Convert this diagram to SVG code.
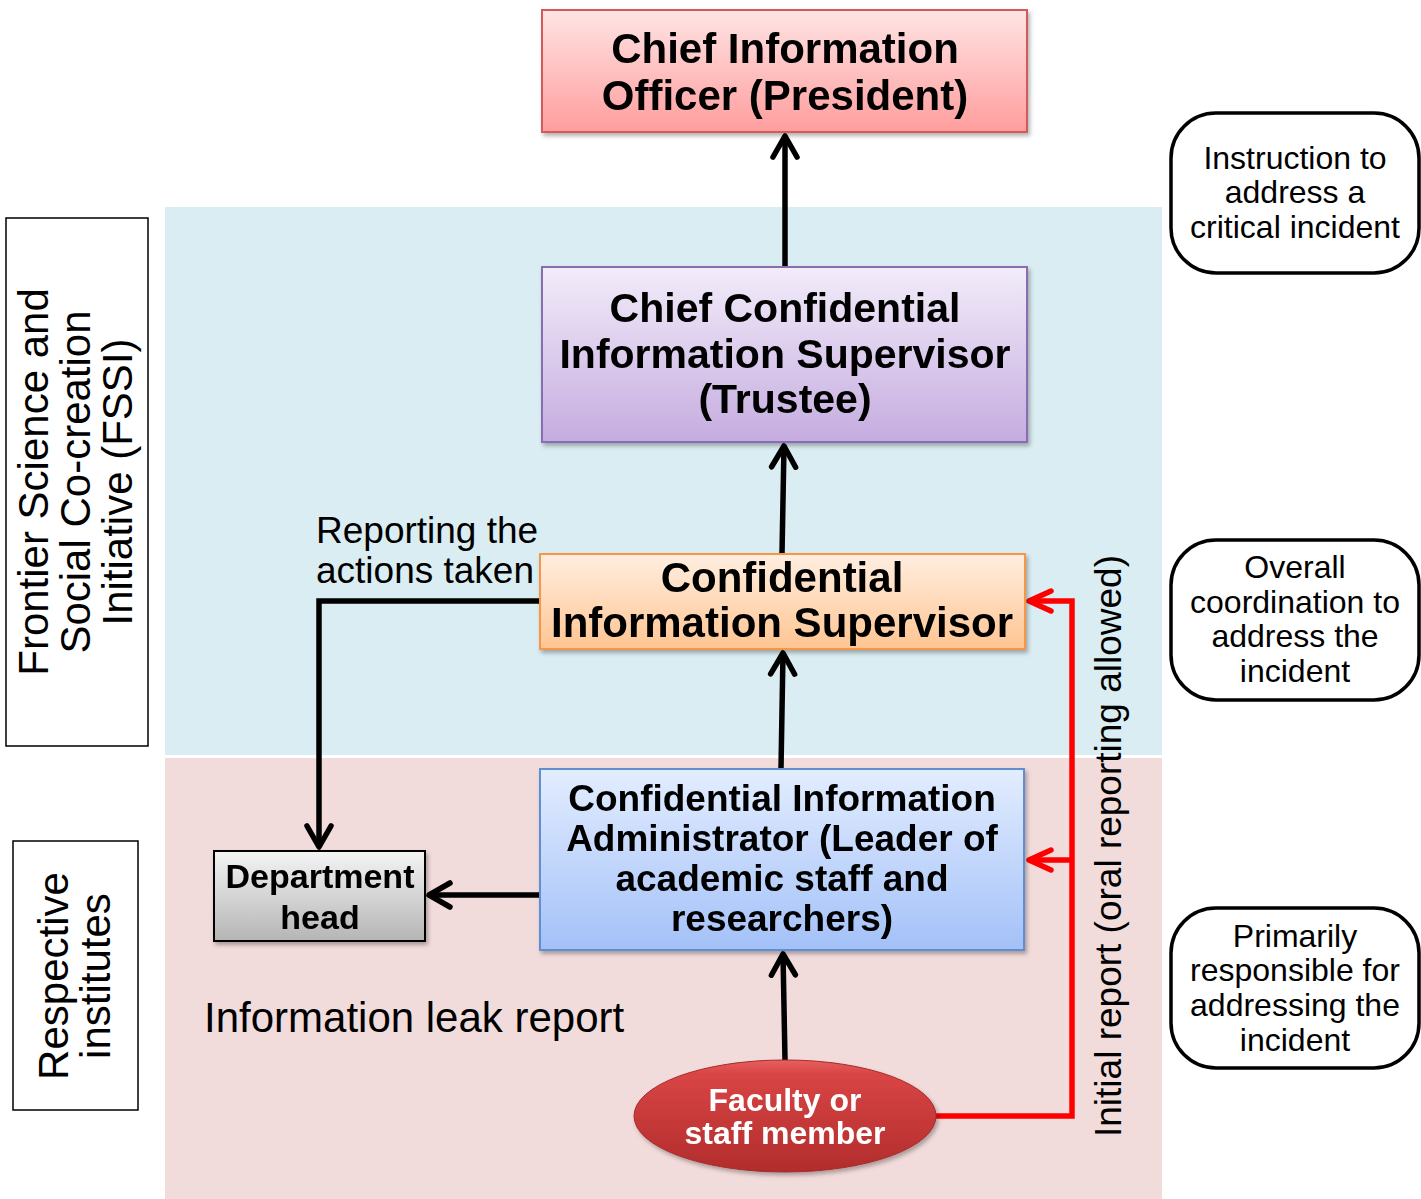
<svg xmlns="http://www.w3.org/2000/svg" width="1421" height="1199" viewBox="0 0 1421 1199">
  <style>
    .t { font-family: "Liberation Sans", Arial, sans-serif; fill: #000; }
    .b { font-weight: bold; }
    .c { text-anchor: middle; }
    .w { fill: #fff; }
    .ln { fill: none; stroke: #000; stroke-width: 5.5; }
    .red { fill: none; stroke: #ff0000; stroke-width: 5.5; }
    .note { fill: #fff; stroke: #000; stroke-width: 3.5; }
    .side { fill: #fff; stroke: #000; stroke-width: 1.5; }
  </style>
  <defs>
    <linearGradient id="gCio" x1="0" y1="0" x2="0" y2="1">
      <stop offset="0" stop-color="#ffe4e4"/>
      <stop offset="1" stop-color="#ff9d9d"/>
    </linearGradient>
    <linearGradient id="gPur" x1="0" y1="0" x2="0" y2="1">
      <stop offset="0" stop-color="#f2ecf9"/>
      <stop offset="1" stop-color="#c5ace0"/>
    </linearGradient>
    <linearGradient id="gOra" x1="0" y1="0" x2="0" y2="1">
      <stop offset="0" stop-color="#ffeee0"/>
      <stop offset="1" stop-color="#ffc592"/>
    </linearGradient>
    <linearGradient id="gBlu" x1="0" y1="0" x2="0" y2="1">
      <stop offset="0" stop-color="#e3edff"/>
      <stop offset="1" stop-color="#a3c1f8"/>
    </linearGradient>
    <linearGradient id="gGry" x1="0" y1="0" x2="0" y2="1">
      <stop offset="0" stop-color="#f4f4f4"/>
      <stop offset="1" stop-color="#b5b5b5"/>
    </linearGradient>
    <linearGradient id="gRed" x1="0" y1="0" x2="0" y2="1">
      <stop offset="0" stop-color="#e86060"/>
      <stop offset="0.12" stop-color="#d94545"/>
      <stop offset="1" stop-color="#b22c2c"/>
    </linearGradient>
    <filter id="shadow" x="-10%" y="-10%" width="120%" height="130%">
      <feDropShadow dx="2" dy="3" stdDeviation="2" flood-color="#000" flood-opacity="0.3"/>
    </filter>
    <marker id="ah" markerUnits="userSpaceOnUse" viewBox="-28 -17 32 34" markerWidth="32" markerHeight="34" refX="0" refY="0" orient="auto">
      <path d="M-21,-12 L0,0 L-21,12" fill="none" stroke="#000" stroke-width="5.5" stroke-linecap="round" stroke-linejoin="round"/>
    </marker>
    <marker id="ahr" markerUnits="userSpaceOnUse" viewBox="-28 -17 32 34" markerWidth="32" markerHeight="34" refX="0" refY="0" orient="auto">
      <path d="M-22,-10 L0,0 L-22,10" fill="none" stroke="#ff0000" stroke-width="5.5" stroke-linecap="round" stroke-linejoin="round"/>
    </marker>
  </defs>

  <rect width="1421" height="1199" fill="#fff"/>

  <!-- organisational bands -->
  <g id="bands">
    <rect x="165" y="207" width="997" height="548" fill="#daedf2"/>
    <rect x="165" y="758" width="997" height="441" fill="#f2dcdb"/>
  </g>

  <!-- side labels -->
  <g id="label-fssi">
    <rect class="side" x="6" y="218" width="142" height="528"/>
    <text class="t c" font-size="42" transform="translate(48,482) rotate(-90)">Frontier Science and</text>
    <text class="t c" font-size="42" transform="translate(90,482) rotate(-90)">Social Co-creation</text>
    <text class="t c" font-size="42" transform="translate(132,482) rotate(-90)">Initiative (FSSI)</text>
  </g>
  <g id="label-institutes">
    <rect class="side" x="13" y="841" width="125" height="269"/>
    <text class="t c" font-size="42" transform="translate(68,976) rotate(-90)">Respective</text>
    <text class="t c" font-size="42" transform="translate(110,976) rotate(-90)">institutes</text>
  </g>

  <!-- connectors -->
  <g id="connectors">
    <line class="ln" x1="785" y1="267" x2="785" y2="136" marker-end="url(#ah)"/>
    <line class="ln" x1="782" y1="554" x2="784" y2="446" marker-end="url(#ah)"/>
    <line class="ln" x1="781" y1="769" x2="783" y2="653" marker-end="url(#ah)"/>
    <line class="ln" x1="785" y1="1060" x2="783" y2="954" marker-end="url(#ah)"/>
    <line class="ln" x1="542" y1="895" x2="429" y2="895" marker-end="url(#ah)"/>
    <polyline class="ln" points="540,601 319,601 319,847" marker-end="url(#ah)"/>
    <polyline class="red" points="936,1116 1072,1116 1072,601 1029,601" marker-end="url(#ahr)"/>
    <line class="red" x1="1072" y1="860" x2="1029" y2="860" marker-end="url(#ahr)"/>
  </g>

  <!-- connector labels -->
  <g id="connector-labels">
    <text class="t" font-size="37" x="316" y="543">Reporting the</text>
    <text class="t" font-size="37" x="316" y="583">actions taken</text>
    <text class="t" font-size="42" x="204" y="1032">Information leak report</text>
    <text class="t c" font-size="37" transform="translate(1121,846) rotate(-90)">Initial report (oral reporting allowed)</text>
  </g>

  <!-- role nodes -->
  <g id="node-cio" filter="url(#shadow)">
    <rect x="542" y="10" width="485" height="122" fill="url(#gCio)" stroke="#d35a5a" stroke-width="2"/>
    <text class="t b c" font-size="42" x="785" y="63">Chief Information</text>
    <text class="t b c" font-size="42" x="785" y="110">Officer (President)</text>
  </g>

  <g id="node-chief-supervisor" filter="url(#shadow)">
    <rect x="542" y="267" width="485" height="175" fill="url(#gPur)" stroke="#8a6db0" stroke-width="2"/>
    <text class="t b c" font-size="41" x="785" y="322">Chief Confidential</text>
    <text class="t b c" font-size="41" x="785" y="368">Information Supervisor</text>
    <text class="t b c" font-size="41" x="785" y="413">(Trustee)</text>
  </g>

  <g id="node-supervisor" filter="url(#shadow)">
    <rect x="540" y="554" width="485" height="95" fill="url(#gOra)" stroke="#f79646" stroke-width="2"/>
    <text class="t b c" font-size="42" x="782" y="592">Confidential</text>
    <text class="t b c" font-size="42" x="782" y="637">Information Supervisor</text>
  </g>

  <g id="node-administrator" filter="url(#shadow)">
    <rect x="540" y="769" width="484" height="181" fill="url(#gBlu)" stroke="#5f8fd0" stroke-width="2"/>
    <text class="t b c" font-size="37" x="782" y="811">Confidential Information</text>
    <text class="t b c" font-size="37" x="782" y="851">Administrator (Leader of</text>
    <text class="t b c" font-size="37" x="782" y="891">academic staff and</text>
    <text class="t b c" font-size="37" x="782" y="931">researchers)</text>
  </g>

  <g id="node-department-head" filter="url(#shadow)">
    <rect x="214" y="851" width="211" height="90" fill="url(#gGry)" stroke="#000" stroke-width="2"/>
    <text class="t b c" font-size="34" x="320" y="888">Department</text>
    <text class="t b c" font-size="34" x="320" y="929">head</text>
  </g>

  <g id="node-faculty" filter="url(#shadow)">
    <ellipse cx="785" cy="1116" rx="151" ry="56" fill="url(#gRed)" stroke="#a52a2a" stroke-width="1"/>
    <text class="t b c w" font-size="32" x="785" y="1111">Faculty or</text>
    <text class="t b c w" font-size="32" x="785" y="1144">staff member</text>
  </g>

  <!-- responsibility notes -->
  <g id="note-instruction">
    <rect class="note" x="1171" y="113" width="248" height="160" rx="45"/>
    <text class="t c" font-size="32" x="1295" y="169">Instruction to</text>
    <text class="t c" font-size="32" x="1295" y="203">address a</text>
    <text class="t c" font-size="32" x="1295" y="238">critical incident</text>
  </g>
  <g id="note-coordination">
    <rect class="note" x="1171" y="540" width="248" height="160" rx="45"/>
    <text class="t c" font-size="32" x="1295" y="578">Overall</text>
    <text class="t c" font-size="32" x="1295" y="613">coordination to</text>
    <text class="t c" font-size="32" x="1295" y="647">address the</text>
    <text class="t c" font-size="32" x="1295" y="682">incident</text>
  </g>
  <g id="note-responsible">
    <rect class="note" x="1171" y="908" width="248" height="160" rx="45"/>
    <text class="t c" font-size="32" x="1295" y="947">Primarily</text>
    <text class="t c" font-size="32" x="1295" y="981">responsible for</text>
    <text class="t c" font-size="32" x="1295" y="1016">addressing the</text>
    <text class="t c" font-size="32" x="1295" y="1051">incident</text>
  </g>
</svg>
